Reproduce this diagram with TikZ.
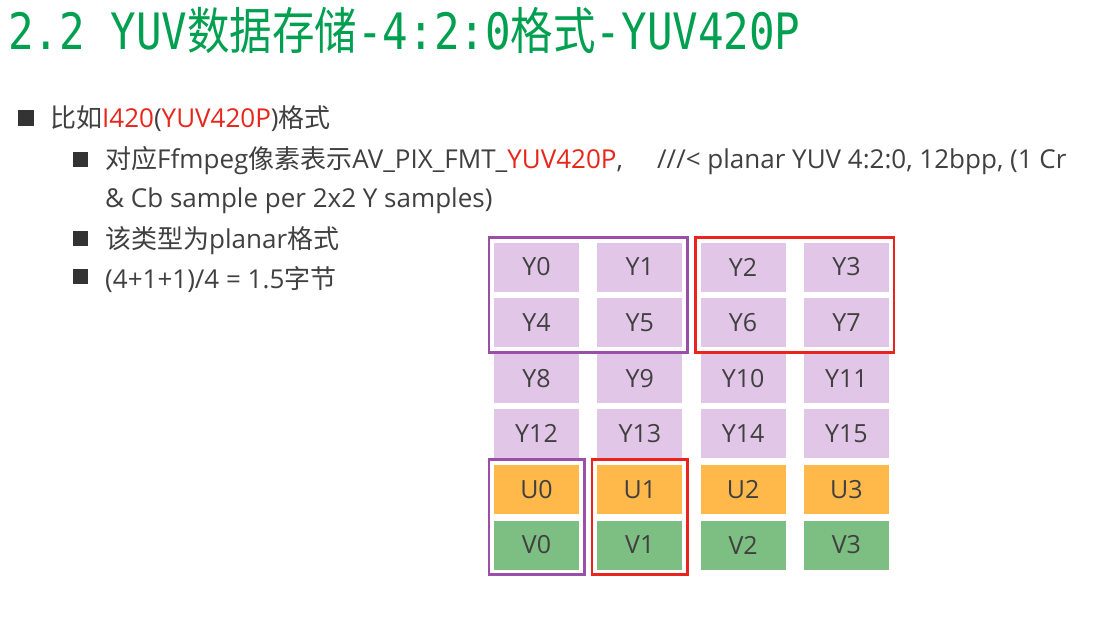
\documentclass[tikz,border=0pt]{standalone}
\usepackage{fontspec}
\setmainfont{Open Sans}
\newfontfamily\cjk{Noto Sans CJK SC}
\newfontfamily\titlemono{DejaVu Sans Mono}
\usetikzlibrary{fit,positioning}
\definecolor{titlegreen}{HTML}{00A050}
\definecolor{txtgray}{HTML}{404040}
\definecolor{hlred}{HTML}{E8261C}
\definecolor{ycol}{HTML}{E2C6E8}
\definecolor{ucol}{HTML}{FFB84A}
\definecolor{vcol}{HTML}{7DBE82}
\definecolor{framepurple}{HTML}{9B4FA8}
\definecolor{framered}{HTML}{E8241C}
\tikzstyle{cell}=[rectangle, minimum width=\cw, minimum height=\ch, inner sep=0pt, text=txtgray, font=\fontsize{25}{28}\selectfont]
\tikzstyle{ycell}=[cell, fill=ycol]
\tikzstyle{ucell}=[cell, fill=ucol]
\tikzstyle{vcell}=[cell, fill=vcol]
\tikzstyle{frame}=[rectangle, line width=2.6pt, inner sep=5pt]
\tikzstyle{bul}=[rectangle, fill=txtgray!80!black, minimum size=\bs, inner sep=0pt]
\tikzstyle{txt}=[anchor=base west, inner sep=0pt, text=txtgray, font=\fontsize{26}{30}\selectfont]
\newcommand{\cw}{85pt}
\newcommand{\ch}{49pt}
\newcommand{\bs}{15pt}
\newcommand{\dx}{103.3}
\newcommand{\dy}{55.6}

\begin{document}
\begin{tikzpicture}[x=1pt, y=-1pt]
        \useasboundingbox[fill=white] (0,0) rectangle (1104,642);
        % title
        \node[anchor=base west, inner sep=0pt, text=titlegreen, font=\fontsize{42.5}{48}\selectfont] (title) at (8,50)
            {\scalebox{1}[1.18]{{\titlemono 2.2 YUV}{\cjk 数据存储}{\titlemono -4:2:0}{\cjk 格式}{\titlemono -YUV420P}}};
        % bullets
        \node[bul, minimum size=16pt] (b1) at (26,118) {};
        \node[txt] (t1) at (50,128) {{\cjk 比如}\textcolor{hlred}{I420}(\textcolor{hlred}{YUV420P}){\cjk 格式}};
        \node[bul] (b2) at (80,159) {};
        \node[txt] (t2) at (105,168) {{\cjk 对应}Ffmpeg{\cjk 像素表示}AV\_PIX\_FMT\_\textcolor{hlred}{YUV420P},};
        \node[txt] (t2b) at (657,168) {///<\ planar YUV 4:2:0, 12bpp, (1 Cr};
        \node[txt] (t3) at (105,207) {\& Cb sample per 2x2 Y samples)};
        \node[bul] (b3) at (80,238) {};
        \node[txt] (t4) at (105,248) {{\cjk 该类型为}planar{\cjk 格式}};
        \node[bul] (b4) at (80,276) {};
        \node[txt] (t5) at (105,288) {(4+1+1)/4 = 1.5{\cjk 字节}};
        % Y plane
        \foreach \r in {0,...,3}{
            \foreach \c in {0,...,3}{
                \pgfmathtruncatemacro{\n}{4*\r+\c}
                \node[ycell] (Y\n) at (536.5+\c*\dx, 267+\r*\dy) {Y\n};
            }
        }
        % U and V planes
        \foreach \c in {0,...,3}{
            \node[ucell] (U\c) at (536.5+\c*\dx, 267+4*\dy) {U\c};
            \node[vcell] (V\c) at (536.5+\c*\dx, 267+5*\dy) {V\c};
        }
        % groups
        \node[frame, draw=framepurple, fit=(Y0)(Y5)] (pfY) {};
        \node[frame, draw=framered, fit=(Y2)(Y7)] (rfY) {};
        \node[frame, draw=framepurple, fit=(U0)(V0)] (pfUV) {};
        \node[frame, draw=framered, fit=(U1)(V1)] (rfUV) {};
\end{tikzpicture}
\end{document}
